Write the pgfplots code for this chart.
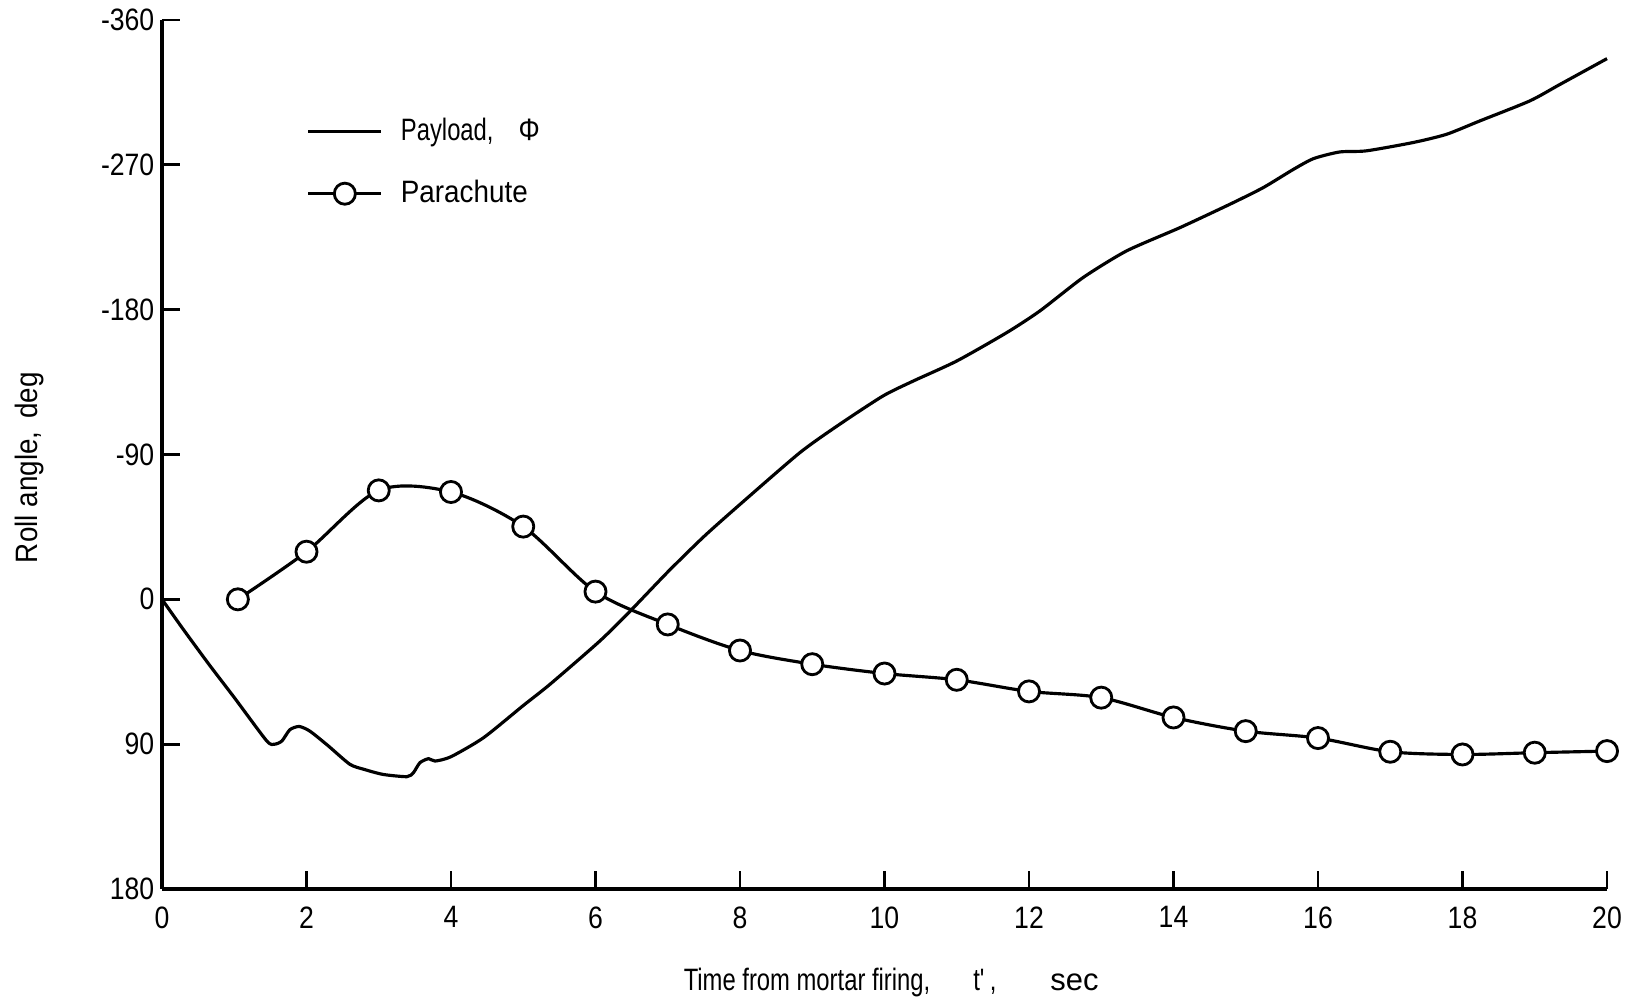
\documentclass[border=0pt]{standalone}
\usepackage{fontspec}
\setmainfont{Liberation Sans}[FakeStretch=0.86]
\newfontfamily\fX{Liberation Sans}[FakeStretch=0.77]
\newfontfamily\fY{Liberation Sans}[FakeStretch=0.90]
\newfontfamily\fS{Liberation Sans}[FakeStretch=1.0]
\usepackage{pgfplots}
\pgfplotsset{compat=1.18}
\begin{document}
\fontsize{8.8pt}{10pt}\selectfont
\begin{tikzpicture}
\begin{axis}[name=ax, scale only axis, width=14.45cm, height=8.69cm,
  xmin=0, xmax=20, ymin=-360, ymax=180, y dir=reverse,
  axis lines*=left, axis line style={line width=0.9pt},
  xtick={0,2,...,20}, ytick={-360,-270,-180,-90,0,90,180},
  xticklabels={0,2,4,6,8,10,12,14,16,18,20},
  yticklabels={-360,-270,-180,-90,0,90,180},
  tick align=inside, major tick length=0.18cm,
  tick style={line width=0.8pt, black},
  xticklabel style={inner sep=0pt, anchor=north, yshift=-0.17cm, font=\fontsize{8.8pt}{10pt}\selectfont},
  yticklabel style={inner sep=0pt, anchor=east, xshift=-0.07cm, font=\fontsize{8.8pt}{10pt}\selectfont},
  xlabel={Time from mortar firing,\hspace{0.43cm}t\textquotesingle\hspace{0.04cm},\hspace{0.54cm}{\fS sec}},
  ylabel={Roll angle,\hspace{0.13cm}deg},
  every axis x label/.style={at={(rel axis cs:0.3606,0)}, anchor=base west, yshift=-1.01cm, inner sep=0pt, font=\fontsize{8.8pt}{10pt}\selectfont\fX},
  every axis y label/.style={at={(rel axis cs:0,0.485)}, xshift=-1.32cm, rotate=90, anchor=center, inner sep=0pt, font=\fontsize{8.8pt}{10pt}\selectfont\fY},
  clip=false,
  legend style={at={(rel axis cs:0.0997,0.8907)}, anchor=north west, draw=none, fill=none,
    inner sep=0pt, nodes={inner sep=0pt, text height=0.25cm, text depth=0.07cm},
    column sep=0.18cm, row sep=0.30cm, font=\fontsize{8.8pt}{10pt}\selectfont},
  legend cell align=left,
  legend image code/.code={\draw[#1, mark=none] (0cm,0cm) -- (0.73cm,0cm);
     \draw[#1, only marks] plot coordinates {(0.365cm,0cm)};},
]
\addplot[black, line width=0.9pt, no markers, smooth, tension=0.4] coordinates {
(0,0) (0.3,19) (0.66,41) (1.0,61) (1.45,88) (1.56,90) (1.66,88) (1.77,81) (1.9,79)
(2.05,82) (2.3,91) (2.6,102.5) (2.8,105.7) (3.06,108.8) (3.39,110.2) (3.48,107.7)
(3.57,101.5) (3.69,99) (3.78,100.5) (4.0,97.8) (4.45,86) (5.0,66) (5.37,52.8)
(6.06,25.9) (6.48,7.3) (7.0,-17) (7.5,-39) (8.0,-59) (8.83,-91.2) (9.38,-108.8)
(9.98,-126.4) (10.4,-135.7) (11.0,-148.1) (11.69,-165.7) (12.15,-179.2) (12.75,-200)
(13.35,-216.5) (14.09,-231) (14.78,-245.5) (15.24,-255.8) (15.66,-267.2) (15.94,-273.9)
(16.3,-278) (16.67,-278.7) (17.32,-283.9) (17.78,-289) (18.24,-297.3) (18.93,-309.7)
(19.35,-320) (20,-336)
};
\addlegendentry{{\fX Payload,}\hspace{0.25cm}Φ}
\addplot[black, line width=0.9pt, smooth, mark=*, mark size=3pt,
  mark options={fill=white, line width=0.8pt}] coordinates {
(1.05,0) (2,-29.6) (3,-67.7) (4,-66.7) (5,-45.2) (6,-4.8) (7,15.6) (8,31.8)
(9,40.3) (10,46.1) (11,50.0) (12,57.2) (13,61.1) (14,73.4) (15,81.9) (16,86.2)
(17,94.7) (18,96.4) (19,95.3) (20,94.3)
};
\addlegendentry{{\fY Parachute}}
\end{axis}
\path ([shift={(-1.62cm,-1.13cm)}]ax.south west) rectangle ([shift={(0.32cm,0.20cm)}]ax.north east);
\end{tikzpicture}
\end{document}
